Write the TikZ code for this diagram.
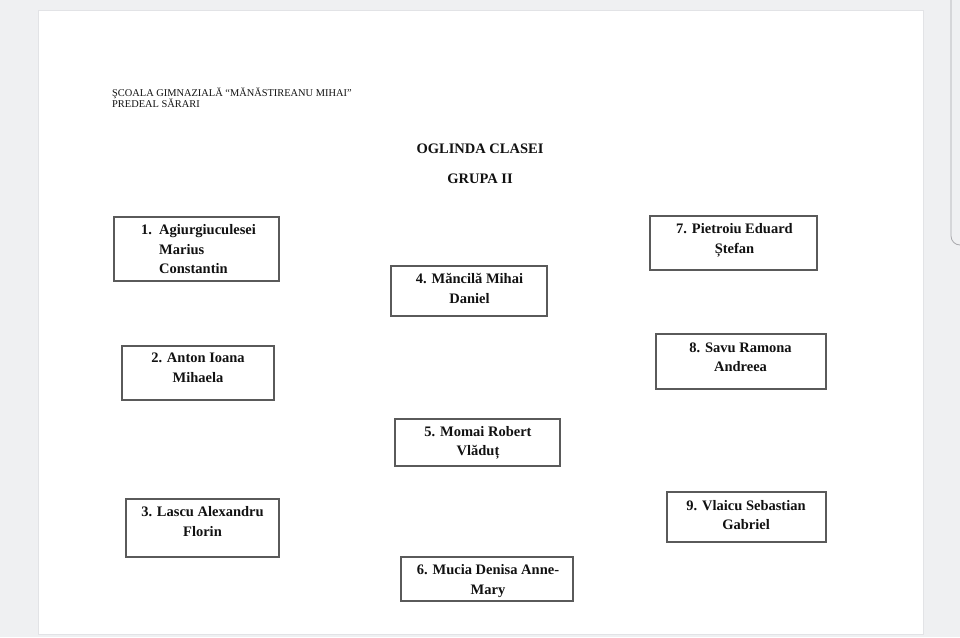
\documentclass[tikz,border=0pt]{standalone}
\usepackage{fontspec}
\setmainfont{Liberation Serif}
\definecolor{bg}{HTML}{EFF0F2}
\definecolor{pageedge}{HTML}{E2E3E6}
\definecolor{boxgray}{HTML}{5A5A5A}
\definecolor{txt}{HTML}{111111}
\definecolor{scroll}{HTML}{A8A8AC}
\tikzset{
  box/.style={draw=boxgray, line width=1.1pt, inner sep=0pt},
  nm/.style={font=\bfseries\fontsize{14.5}{19.5}\selectfont, anchor=base, inner sep=0pt, text=txt},
  nmw/.style={nm, anchor=base west},
  hdr/.style={font=\fontsize{10.4}{11}\selectfont, anchor=base west, inner sep=0pt, text=txt},
}
\begin{document}
\begin{tikzpicture}[x=1pt,y=-1pt]
\useasboundingbox (0,0) rectangle (960,637);
\fill[bg] (0,0) rectangle (960,637);
\filldraw[fill=white, draw=pageedge, line width=0.8pt] (38,10) rectangle (923,634);
\draw[scroll, line width=0.8pt, rounded corners=9pt] (951,-2) -- (951,245) -- (965,245);

% header
\node[hdr] (h1) at (112,96) {ŞCOALA GIMNAZIALĂ “MĂNĂSTIREANU MIHAI”};
\node[hdr] (h2) at (112,107) {PREDEAL SĂRARI};
\node[nm] (title) at (480,153) {OGLINDA CLASEI};
\node[nm] (grupa) at (480,183) {GRUPA II};

% boxes
\node[box, minimum width=165, minimum height=64] (b1) at (196.5,249) {};
\node[box, minimum width=152, minimum height=54] (b2) at (198,373) {};
\node[box, minimum width=153, minimum height=58] (b3) at (202.5,528) {};
\node[box, minimum width=156, minimum height=50] (b4) at (469,291) {};
\node[box, minimum width=165, minimum height=47] (b5) at (477.5,442.5) {};
\node[box, minimum width=172, minimum height=44] (b6) at (487,579) {};
\node[box, minimum width=167, minimum height=54] (b7) at (733.5,243) {};
\node[box, minimum width=170, minimum height=55] (b8) at (741,361.5) {};
\node[box, minimum width=159, minimum height=50] (b9) at (746.5,517) {};

% texts
\node[nmw] (t1n) at (141,234.5) {1.};
\node[nmw] (t1a) at (159,234.5) {Agiurgiuculesei};
\node[nmw] (t1b) at (159,254.5) {Marius};
\node[nmw] (t1c) at (159,273.5) {Constantin};

\node[nm] (t2a) at (198,362.5) {2. Anton Ioana};
\node[nm] (t2b) at (198,382.5) {Mihaela};

\node[nm] (t3a) at (202.5,516.5) {3. Lascu Alexandru};
\node[nm] (t3b) at (202.5,536.5) {Florin};

\node[nm] (t4a) at (469.5,283.5) {4. Măncilă Mihai};
\node[nm] (t4b) at (469.5,303.5) {Daniel};

\node[nm] (t5a) at (478,436.5) {5. Momai Robert};
\node[nm] (t5b) at (478,455.5) {Vlăduț};

\node[nm] (t6a) at (488,574.5) {6. Mucia Denisa Anne-};
\node[nm] (t6b) at (488,594.5) {Mary};

\node[nm] (t7a) at (734.5,233.5) {7. Pietroiu Eduard};
\node[nm] (t7b) at (734.5,253.5) {Ștefan};

\node[nm] (t8a) at (740.5,352.5) {8. Savu Ramona};
\node[nm] (t8b) at (740.5,371.5) {Andreea};

\node[nm] (t9a) at (746,510.5) {9. Vlaicu Sebastian};
\node[nm] (t9b) at (746,529.5) {Gabriel};
\end{tikzpicture}
\end{document}
